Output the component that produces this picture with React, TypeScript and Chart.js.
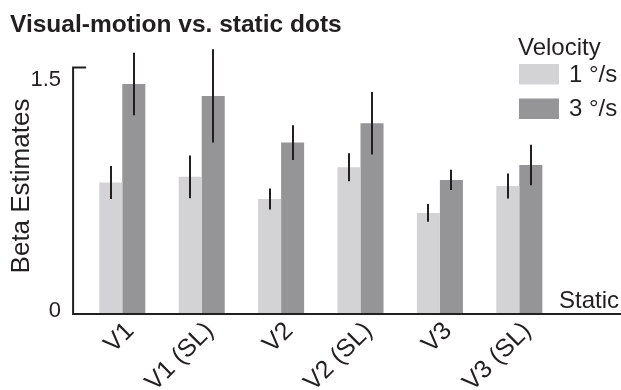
import React, { useEffect, useRef } from "react";
import { Chart, registerables } from "chart.js";

Chart.register(...registerables);

// Regions of interest and beta estimates per stimulus velocity
const categories = ["V1", "V1 (SL)", "V2", "V2 (SL)", "V3", "V3 (SL)"];
const slowValues = [0.8, 0.835, 0.7, 0.893, 0.615, 0.779];
const slowErrors = [0.1, 0.13, 0.064, 0.085, 0.054, 0.076];
const fastValues = [1.4, 1.327, 1.043, 1.161, 0.816, 0.907];
const fastErrors = [0.19, 0.284, 0.106, 0.19, 0.062, 0.123];
const seriesLabels = ["1 °/s", "3 °/s"];
const yTickValues = [0, 1.5];
const yTickLabels = ["0", "1.5"];

const titleText = "Visual-motion vs. static dots";
const yTitleText = "Beta Estimates";
const legendTitle = "Velocity";
const baselineLabel = "Static";

const INK = "#231f20";
const LIGHT = "#d3d3d5";
const DARK = "#959597";
const FONT = "'Liberation Sans', Arial, Helvetica, sans-serif";

const decorPlugin = {
  id: "decor",
  afterDatasetsDraw(chart: any) {
    const ctx = chart.ctx;
    const x = chart.scales.x;
    const y = chart.scales.y;
    const errs = [slowErrors, fastErrors];
    const vals = [slowValues, fastValues];

    // error bars
    ctx.save();
    ctx.strokeStyle = INK;
    ctx.lineWidth = 2;
    chart.data.datasets.forEach((_: any, di: number) => {
      const meta = chart.getDatasetMeta(di);
      meta.data.forEach((bar: any, i: number) => {
        const v = vals[di][i];
        const e = errs[di][i];
        ctx.beginPath();
        ctx.moveTo(Math.round(bar.x), y.getPixelForValue(v + e));
        ctx.lineTo(Math.round(bar.x), y.getPixelForValue(v - e));
        ctx.stroke();
      });
    });
    ctx.restore();

    const y0 = y.getPixelForValue(0);
    const yTop = y.getPixelForValue(yTickValues[yTickValues.length - 1]);
    const axisX = x.left - 9.5;

    // axes
    ctx.save();
    ctx.strokeStyle = INK;
    ctx.lineWidth = 2;
    ctx.beginPath();
    ctx.moveTo(axisX + 13, yTop);
    ctx.lineTo(axisX, yTop);
    ctx.lineTo(axisX, y0);
    ctx.lineTo(chart.width, y0);
    ctx.stroke();
    ctx.restore();

    ctx.save();
    ctx.fillStyle = INK;

    // y tick labels
    ctx.font = `22px ${FONT}`;
    ctx.textAlign = "right";
    ctx.textBaseline = "alphabetic";
    yTickValues.forEach((v, i) => {
      const py = y.getPixelForValue(v);
      const off = v === 0 ? 2.5 : 18.5;
      ctx.fillText(yTickLabels[i], axisX - 12, py + off);
    });

    // y title
    ctx.save();
    ctx.translate(29, 186);
    ctx.rotate(-Math.PI / 2);
    ctx.textAlign = "center";
    ctx.textBaseline = "alphabetic";
    ctx.font = `26px ${FONT}`;
    ctx.fillText(yTitleText, 0, 0);
    ctx.restore();

    // category labels, rotated 45 degrees
    ctx.font = `25px ${FONT}`;
    categories.forEach((c, i) => {
      const px = x.getPixelForValue(i);
      ctx.save();
      ctx.translate(px + 8, y0 + 13);
      ctx.rotate(-Math.PI / 4);
      ctx.textAlign = "right";
      ctx.textBaseline = "middle";
      ctx.fillText(c, 0, 0);
      ctx.restore();
    });

    // baseline label
    ctx.textAlign = "right";
    ctx.textBaseline = "alphabetic";
    ctx.font = `24px ${FONT}`;
    ctx.fillText(baselineLabel, 619, y0 - 6);

    // chart title
    ctx.textAlign = "left";
    ctx.font = `bold 24.5px ${FONT}`;
    ctx.fillText(titleText, 10, 32);

    // legend
    ctx.font = `24px ${FONT}`;
    ctx.fillText(legendTitle, 518, 55);
    const colors = [LIGHT, DARK];
    seriesLabels.forEach((lab, i) => {
      const by = 64 + i * 34.5;
      ctx.fillStyle = colors[i];
      ctx.fillRect(519, by, 40, 20.5);
      ctx.fillStyle = INK;
      ctx.textBaseline = "middle";
      ctx.fillText(lab, 569, by + 11);
    });
    ctx.restore();
  },
};

export default function App() {
  const canvasRef = useRef<HTMLCanvasElement | null>(null);

  useEffect(() => {
    if (!canvasRef.current) return;
    const chart = new Chart(canvasRef.current, {
      type: "bar",
      data: {
        labels: categories,
        datasets: [
          {
            label: seriesLabels[0],
            data: slowValues,
            backgroundColor: LIGHT,
            borderWidth: 0,
          },
          {
            label: seriesLabels[1],
            data: fastValues,
            backgroundColor: DARK,
            borderWidth: 0,
          },
        ],
      },
      options: {
        animation: false,
        responsive: true,
        maintainAspectRatio: false,
        layout: {
          padding: { left: 82.6, right: 62, top: 67.5, bottom: 76 },
        },
        datasets: {
          bar: { categoryPercentage: 0.58, barPercentage: 1.0 },
        },
        scales: {
          x: { display: false },
          y: { display: false, min: 0, max: 1.5 },
        },
        plugins: {
          legend: { display: false },
          title: { display: false },
          tooltip: { enabled: false },
        },
      },
      plugins: [decorPlugin],
    });
    return () => chart.destroy();
  }, []);

  return (
    <div
      style={{
        position: "fixed",
        left: 0,
        top: 0,
        width: 621,
        height: 390,
        background: "#fff",
      }}
    >
      <canvas ref={canvasRef} />
    </div>
  );
}
